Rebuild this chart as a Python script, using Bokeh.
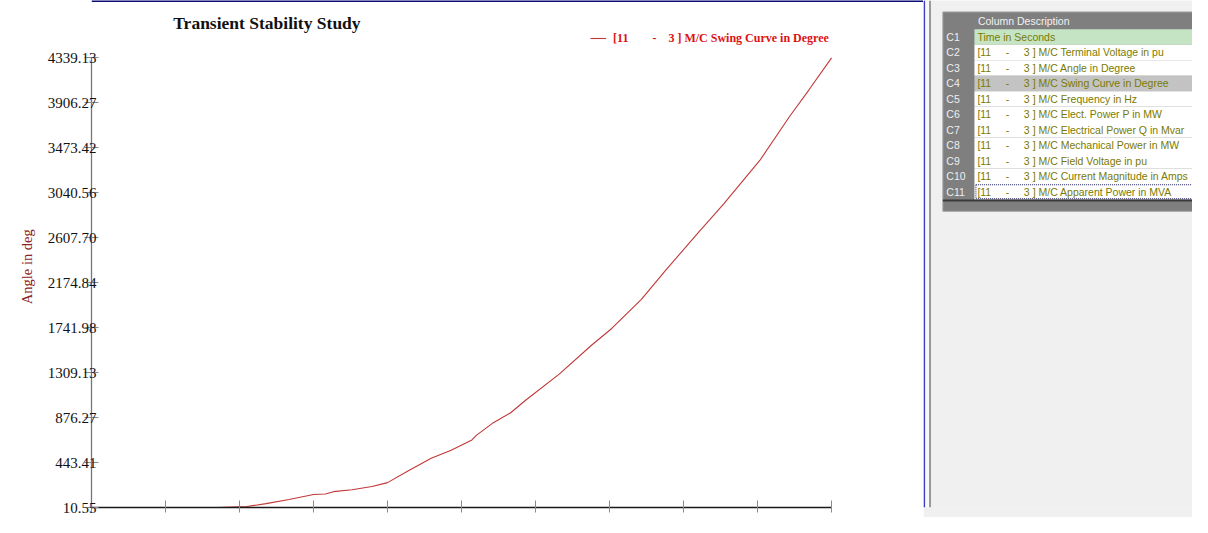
from bokeh.plotting import figure
from bokeh.models import (Range1d, FixedTicker, PrintfTickFormatter, Label, Legend,
                          LegendItem, ColumnDataSource, Span, CustomJSTickFormatter)
from bokeh.layouts import row
from bokeh.embed import file_html
from bokeh.resources import INLINE
from bokeh.core.properties import value

# ---------------- data ----------------
time_s = [1.70, 2.10, 2.36, 2.67, 3.00, 3.16, 3.27, 3.52, 3.79, 4.00, 4.27, 4.59,
          4.86, 5.14, 5.20, 5.43, 5.66, 5.87, 6.32, 6.76, 7.03, 7.43, 7.76, 8.19,
          8.54, 9.03, 9.43, 9.70, 10.00]
swing_deg = [10.55, 20, 48, 88, 135, 141, 163, 181, 212, 250, 359, 484, 562, 661,
             705, 827, 920, 1045, 1294, 1575, 1734, 2014, 2295, 2650, 2931, 3351,
             3772, 4036, 4339.13]
y_ticks = [10.55, 443.41, 876.27, 1309.13, 1741.98, 2174.84, 2607.70, 3040.56,
           3473.42, 3906.27, 4339.13]
x_ticks = [0, 1, 2, 3, 4, 5, 6, 7, 8, 9, 10]
title_text = "Transient Stability Study"
NB = "\u00a0"
y_label = "Angle in deg"
series_name = "[11" + NB * 8 + "-" + NB * 4 + "3 ] M/C Swing Curve in Degree"
table_header = "Column Description"
col_ids = ["C1", "C2", "C3", "C4", "C5", "C6", "C7", "C8", "C9", "C10", "C11"]
machine = "[11" + NB * 5 + "-" + NB * 5 + "3 ] M/C "
col_names = ["Time in Seconds", "Terminal Voltage in pu", "Angle in Degree",
             "Swing Curve in Degree", "Frequency in Hz", "Elect. Power P in MW",
             "Electrical Power Q in Mvar", "Mechanical Power in MW",
             "Field Voltage in pu", "Current Magnitude in Amps",
             "Apparent Power in MVA"]
col_desc = [col_names[0]] + [machine + n for n in col_names[1:]]
highlight_row = 3   # C4 selected
time_row = 0        # C1 time column
focus_row = 10      # C11 focus

# ---------------- layout constants ----------------
SX = 1192 / 1208
SY = 517 / 533
H = 517
W_LEFT = 923
W_RIGHT = 1192 - W_LEFT
FRAME_L = 91
BORDER_B = 10
frame_w = W_LEFT - FRAME_L
frame_h = H - BORDER_B

REF_X0, REF_X10 = 92.7, 842.7
REF_YMIN, REF_YMAX = 522.3, 58.7
x_ppu = (REF_X10 - REF_X0) * SX / (x_ticks[-1] - x_ticks[0])
y_ppu = (REF_YMIN - REF_YMAX) * SY / (y_ticks[-1] - y_ticks[0])
x_start = x_ticks[0]
x_end = x_start + frame_w / x_ppu
y_start = y_ticks[0]
y_end = y_start + frame_h / y_ppu


def fx(ref_px):
    return x_start + (ref_px * SX - FRAME_L) / x_ppu


def fy(ref_py):
    return y_end - (ref_py * SY) / y_ppu


SERIF = "Liberation Serif"
SANS = "Liberation Sans"

# ---------------- chart ----------------
p = figure(width=W_LEFT, height=H, x_range=Range1d(x_start, x_end),
           y_range=Range1d(y_start, y_end), output_backend="svg",
           toolbar_location=None, min_border_left=FRAME_L, min_border_right=0,
           min_border_top=0, min_border_bottom=BORDER_B,
           background_fill_color="white", border_fill_color="white")
p.title.visible = False
p.outline_line_color = None
p.xgrid.visible = False
p.ygrid.visible = False

r = p.line(time_s, swing_deg, line_color="#c03838", line_width=1.1)

yax = p.yaxis[0]
yax.ticker = FixedTicker(ticks=y_ticks)
yax.formatter = PrintfTickFormatter(format="%.2f")
yax.bounds = (y_ticks[0], y_ticks[-1])
yax.axis_line_color = "#777777"
yax.axis_line_width = 1.3
yax.major_tick_line_color = "#8a8a8a"
yax.major_tick_in = 7
yax.major_tick_out = 7
yax.minor_tick_line_color = None
yax.major_label_text_font = SERIF
yax.major_label_text_font_size = "15px"
yax.major_label_text_color = "#111111"
yax.major_label_standoff = -12
yax.axis_label = y_label + NB * 7
yax.axis_label_text_font = SERIF
yax.axis_label_text_font_size = "14.5px"
yax.axis_label_text_font_style = "normal"
yax.axis_label_text_color = "#8b2424"
yax.axis_label_standoff = 10

xax = p.xaxis[0]
xax.ticker = FixedTicker(ticks=x_ticks)
xax.formatter = CustomJSTickFormatter(code="return ''")
xax.bounds = (x_ticks[0], x_ticks[-1])
xax.axis_line_color = "#1a1a1a"
xax.axis_line_width = 1.3
xax.major_tick_line_color = "#8a8a8a"
xax.major_tick_in = 7
xax.major_tick_out = 5
xax.minor_tick_line_color = None
xax.major_label_standoff = 0

p.add_layout(Span(location=y_end, dimension="width", line_color="#0c0c78",
                  line_width=3))

p.add_layout(Label(x=fx(270), y=fy(23), text=title_text, text_align="center",
                   text_baseline="middle", text_font=SERIF, text_font_style="bold",
                   text_font_size="17.5px", text_color="#111111"))

legend = Legend(items=[LegendItem(label=value(series_name), renderers=[r])],
                location=(598 * SX - FRAME_L, frame_h - 40 * SY - 7),
                label_text_font=SERIF, label_text_font_style="bold",
                label_text_font_size="12px", label_text_color="#dd1111",
                border_line_color=None, background_fill_alpha=0,
                glyph_width=16, glyph_height=12, label_height=12,
                label_standoff=7, padding=0, margin=0, spacing=0)
p.add_layout(legend)

# ---------------- right panel (column description table) ----------------
RX0 = W_LEFT / SX
q = figure(width=W_RIGHT, height=H, x_range=Range1d(RX0, 1208),
           y_range=Range1d(533, 0), output_backend="svg", toolbar_location=None,
           x_axis_location=None, y_axis_location=None,
           min_border_left=0, min_border_right=0, min_border_top=0,
           min_border_bottom=0, background_fill_color="#f0f0f0",
           border_fill_color="#f0f0f0")
q.title.visible = False
q.outline_line_color = None
q.xgrid.visible = False
q.ygrid.visible = False

q.quad(left=[RX0], right=[936], top=[0], bottom=[533], fill_color="white",
       line_color=None)
q.quad(left=[936.8], right=[941], top=[0], bottom=[533], fill_color="#f9f9f9",
       line_color=None)
q.segment(x0=[936.2], y0=[0], x1=[936.2], y1=[533], line_color="#3e3ec4",
          line_width=1.6)
q.segment(x0=[942], y0=[0], x1=[942], y1=[533], line_color="#9a9a9a",
          line_width=2)

ROW0_TOP = 30.2
ROW_H = 16.27
TX_L, ID_R, TX_R = 955, 987, 1215
n = len(col_ids)
rows_bottom = ROW0_TOP + n * ROW_H
q.quad(left=[TX_L], right=[TX_R], top=[12], bottom=[rows_bottom + 12.5],
       fill_color="#7f7f7f", line_color="#a6a6a6", line_width=1)

tops = [ROW0_TOP + i * ROW_H for i in range(n)]
bottoms = [t + ROW_H for t in tops]
mids = [t + ROW_H / 2 for t in tops]
fills = []
for i in range(n):
    if i == time_row:
        fills.append("#c4e4c4")
    elif i == highlight_row:
        fills.append("#c3c3c3")
    else:
        fills.append("#ffffff")
src = ColumnDataSource(dict(top=tops, bottom=bottoms, mid=mids, fill=fills,
                            cid=col_ids, desc=col_desc))
q.quad(left=ID_R, right=TX_R, top="top", bottom="bottom", fill_color="fill",
       line_color=None, source=src)
q.quad(left=[ID_R + 1.5], right=[TX_R], top=[tops[focus_row] + 0.8],
       bottom=[bottoms[focus_row] - 0.8], fill_color=None, line_color="#202060",
       line_dash="1 1", line_width=1)
q.segment(x0=[TX_L], y0=[rows_bottom + 1], x1=[TX_R], y1=[rows_bottom + 1],
          line_color="#3a3a3a", line_width=2)

q.text(x=958.5, y="mid", text="cid", source=src, text_font=value(SANS),
       text_font_size="10.5px", text_color="#eeeeee", text_baseline="middle")
q.text(x=990, y="mid", text="desc", source=src, text_font=value(SANS),
       text_font_size="10.5px", text_color="#7a7a00", text_baseline="middle")
q.text(x=[990.5], y=[21.5], text=[table_header], text_font=value(SANS),
       text_font_size="10.5px", text_color="#f2f2f2", text_baseline="middle")

layout = row(p, q)
open("out.html", "w").write(file_html(layout, INLINE))
